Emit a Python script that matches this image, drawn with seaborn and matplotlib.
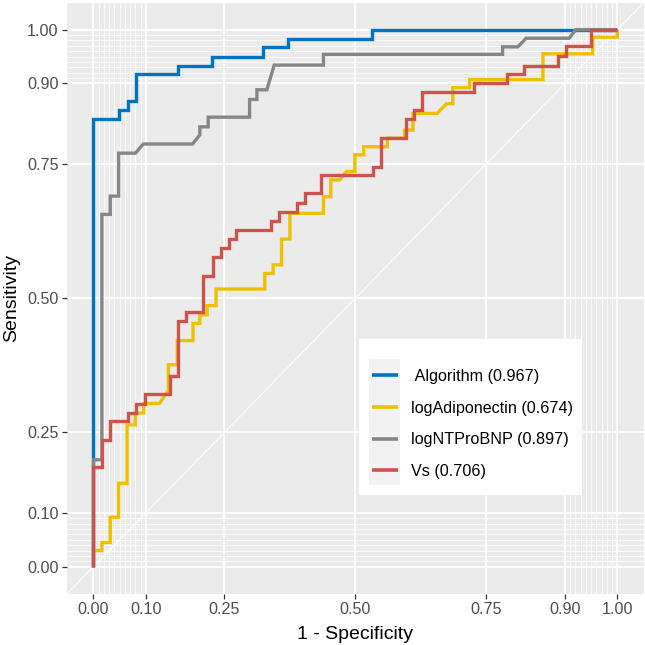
import pandas as pd
import matplotlib.pyplot as plt
import seaborn as sns
from matplotlib.lines import Line2D
from matplotlib.patches import Rectangle

# curvas ROC (1 - especificidade, sensibilidade)
algo_fpr = [0, 0, 0.048, 0.048, 0.065, 0.065, 0.081, 0.081, 0.161, 0.161, 0.226, 0.226,
            0.323, 0.323, 0.371, 0.371, 0.532, 0.532, 1.0]
algo_tpr = [0, 0.833, 0.833, 0.850, 0.850, 0.867, 0.867, 0.917, 0.917, 0.933, 0.933, 0.950,
            0.950, 0.967, 0.967, 0.983, 0.983, 1.0, 1.0]

adipo_fpr = [0, 0, 0.016, 0.016, 0.032, 0.032, 0.048, 0.048, 0.064, 0.064, 0.080, 0.080,
             0.096, 0.096, 0.126, 0.143, 0.143, 0.160, 0.160, 0.190, 0.190, 0.203, 0.203,
             0.217, 0.217, 0.234, 0.234, 0.327, 0.327, 0.343, 0.343, 0.359, 0.359, 0.375,
             0.375, 0.439, 0.439, 0.453, 0.453, 0.470, 0.483, 0.499, 0.499, 0.516, 0.516,
             0.561, 0.561, 0.594, 0.594, 0.610, 0.610, 0.656, 0.674, 0.686, 0.686, 0.718,
             0.718, 0.858, 0.858, 0.953, 0.953, 1.0, 1.0]
adipo_tpr = [0, 0.030, 0.030, 0.045, 0.045, 0.092, 0.092, 0.155, 0.155, 0.264, 0.264, 0.286,
             0.286, 0.304, 0.304, 0.328, 0.376, 0.376, 0.421, 0.421, 0.453, 0.453, 0.469,
             0.469, 0.486, 0.486, 0.517, 0.517, 0.546, 0.546, 0.562, 0.562, 0.610, 0.610,
             0.658, 0.658, 0.689, 0.689, 0.720, 0.720, 0.736, 0.736, 0.767, 0.767, 0.782,
             0.782, 0.798, 0.798, 0.813, 0.813, 0.844, 0.844, 0.862, 0.862, 0.892, 0.892,
             0.907, 0.907, 0.955, 0.955, 0.986, 0.986, 1.0]

ntp_fpr = [0, 0, 0.016, 0.016, 0.032, 0.032, 0.048, 0.048, 0.080, 0.095, 0.189, 0.203,
           0.203, 0.219, 0.219, 0.298, 0.298, 0.312, 0.312, 0.331, 0.345, 0.439, 0.439,
           0.781, 0.781, 0.810, 0.826, 0.908, 0.921, 1.0]
ntp_tpr = [0, 0.199, 0.199, 0.656, 0.656, 0.690, 0.690, 0.770, 0.770, 0.787, 0.787, 0.804,
           0.819, 0.819, 0.837, 0.837, 0.870, 0.870, 0.888, 0.888, 0.934, 0.934, 0.954,
           0.954, 0.968, 0.968, 0.984, 0.984, 1.0, 1.0]

vs_fpr = [0, 0, 0.016, 0.016, 0.032, 0.032, 0.065, 0.065, 0.081, 0.081, 0.098, 0.098,
          0.146, 0.146, 0.162, 0.162, 0.177, 0.177, 0.209, 0.209, 0.228, 0.228, 0.243,
          0.243, 0.259, 0.259, 0.273, 0.273, 0.338, 0.338, 0.355, 0.355, 0.388, 0.388,
          0.404, 0.404, 0.435, 0.435, 0.533, 0.533, 0.548, 0.548, 0.596, 0.596, 0.612,
          0.612, 0.628, 0.628, 0.727, 0.727, 0.790, 0.790, 0.822, 0.822, 0.887, 0.887,
          0.903, 0.903, 0.949, 0.949, 1.0]
vs_tpr = [0, 0.186, 0.186, 0.236, 0.236, 0.271, 0.271, 0.287, 0.287, 0.303, 0.303, 0.321,
          0.321, 0.355, 0.355, 0.457, 0.457, 0.474, 0.474, 0.541, 0.541, 0.576, 0.576,
          0.593, 0.593, 0.610, 0.610, 0.627, 0.627, 0.644, 0.644, 0.661, 0.661, 0.678,
          0.678, 0.695, 0.695, 0.729, 0.729, 0.745, 0.745, 0.799, 0.799, 0.833, 0.833,
          0.850, 0.850, 0.884, 0.884, 0.900, 0.900, 0.917, 0.917, 0.933, 0.933, 0.951,
          0.951, 0.969, 0.969, 1.0, 1.0]

marcadores = ["Algorithm", "logAdiponectin", "logNTProBNP", "Vs"]
auc = [0.967, 0.674, 0.897, 0.706]
rotulos = [" Algorithm (0.967)", "logAdiponectin (0.674)", "logNTProBNP (0.897)", "Vs (0.706)"]
cores = ["#0073C2", "#EFC000", "#868686", "#CD534C"]

ticks = [0, 0.1, 0.25, 0.5, 0.75, 0.9, 1.0]
tick_labels = ["0.00", "0.10", "0.25", "0.50", "0.75", "0.90", "1.00"]
minor_ticks = [i / 100 for i in range(1, 10)] + [i / 100 for i in range(91, 100)]


def montar_dados():
    partes = []
    for nome, fpr, tpr in zip(marcadores,
                              [algo_fpr, adipo_fpr, ntp_fpr, vs_fpr],
                              [algo_tpr, adipo_tpr, ntp_tpr, vs_tpr]):
        partes.append(pd.DataFrame({"fpr": fpr, "tpr": tpr, "marcador": nome}))
    return pd.concat(partes, ignore_index=True)


sns.set_theme(style="darkgrid")
plt.rcParams["font.family"] = ["Liberation Sans", "DejaVu Sans"]

df = montar_dados()

fig, ax = plt.subplots(figsize=(6.45, 6.45), dpi=100)
fig.subplots_adjust(left=67.3 / 645, right=643.5 / 645,
                    bottom=(645 - 593.5) / 645, top=(645 - 2.8) / 645)
ax.set_facecolor("#EBEBEB")

sns.lineplot(data=df, x="fpr", y="tpr", hue="marcador", hue_order=marcadores,
             palette=dict(zip(marcadores, cores)), sort=False, estimator=None,
             linewidth=2.4, legend=False, ax=ax, zorder=3,
             solid_joinstyle="miter", solid_capstyle="butt")

# diagonal de referência
ax.axline((0, 0), (1, 1), color="white", linewidth=0.8, zorder=2)

ax.set_xlim(-0.05, 1.05)
ax.set_ylim(-0.05, 1.05)
ax.set_xticks(ticks)
ax.set_xticklabels(tick_labels)
ax.set_yticks(ticks)
ax.set_yticklabels(tick_labels)
ax.set_xticks(minor_ticks, minor=True)
ax.set_yticks(minor_ticks, minor=True)

ax.grid(which="major", color="white", linewidth=1.3)
ax.grid(which="minor", color="white", linewidth=0.6)
ax.set_axisbelow(True)
for s in ax.spines.values():
    s.set_visible(False)

ax.tick_params(which="major", length=3.8, width=0.9, color="#333333",
               labelcolor="#4D4D4D", labelsize=11.6, pad=2.5, bottom=True, left=True)
ax.tick_params(which="minor", length=0)

ax.set_xlabel("1 - Specificity", fontsize=14, color="black", labelpad=6)
ax.set_ylabel("Sensitivity", fontsize=14, color="black", labelpad=5)

# caixa da legenda (fundo branco + fundo cinza das chaves)
ax.add_patch(Rectangle((359 / 645, 1 - 495 / 645), 223 / 645, 156 / 645,
                       transform=fig.transFigure, facecolor="white",
                       edgecolor="none", zorder=4))
ax.add_patch(Rectangle((369 / 645, 1 - 485 / 645), 31 / 645, 126 / 645,
                       transform=fig.transFigure, facecolor="#F2F2F2",
                       edgecolor="none", zorder=4.1))

handles = [Line2D([0], [0], color=c, linewidth=2.6, solid_capstyle="butt") for c in cores]
leg = ax.legend(handles, rotulos, loc="upper left",
                bbox_to_anchor=(372 / 645, 1 - 369 / 645), bbox_transform=fig.transFigure,
                frameon=False, fontsize=11.6, handlelength=1.6, handletextpad=0.85,
                labelspacing=1.03, borderpad=0, borderaxespad=0)
leg.set_zorder(5)
for t in leg.get_texts():
    t.set_color("black")

plt.savefig("out.png", dpi=100)
plt.close()
